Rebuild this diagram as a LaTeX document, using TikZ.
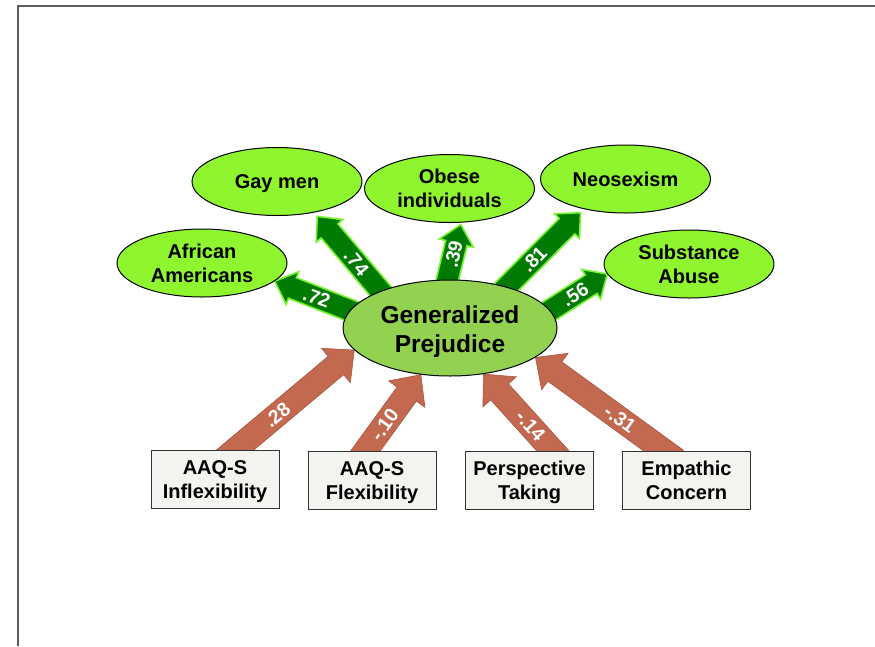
\documentclass[tikz,border=0pt]{standalone}
\usepackage{fontspec}
\setmainfont{Liberation Sans}
\usetikzlibrary{calc,shapes.geometric}

\definecolor{limefill}{HTML}{8EF52F}
\definecolor{corefill}{HTML}{93D151}
\definecolor{posfill}{HTML}{007A00}
\definecolor{posedge}{HTML}{74F52A}
\definecolor{negfill}{HTML}{C3694F}
\definecolor{negedge}{HTML}{A9573F}
\definecolor{boxfill}{HTML}{F3F3EF}
\definecolor{boxline}{HTML}{333333}
\definecolor{framegray}{HTML}{5E5E5E}

\pgfdeclarelayer{arrowlayer}
\pgfsetlayers{arrowlayer,main}

% block arrow: #1 start, #2 tip, #3 half shaft width, #4 half head width,
% #5 head length, #6 style
\newcommand{\blockarrow}[6]{%
  \coordinate (ba-h) at ($(#2)!#5!(#1)$);
  \path[#6] ($(#1)!#3!90:(#2)$) -- ($(ba-h)!#3!90:(#2)$) -- ($(ba-h)!#4!90:(#2)$)
    -- (#2) -- ($(ba-h)!#4!-90:(#2)$) -- ($(ba-h)!#3!-90:(#2)$)
    -- ($(#1)!#3!-90:(#2)$) -- cycle;
}

\tikzset{
  oneline/.style={text height=14.5pt, text depth=0pt},
  twoline/.style={text height=38.3pt, text depth=0pt},
  outer/.style={ellipse, draw=black, line width=1pt, fill=limefill,
    minimum width=170pt, minimum height=68pt, inner sep=0pt, align=center,
    font=\bfseries\fontsize{20}{24}\selectfont},
  core/.style={ellipse, draw=black, line width=1pt, fill=corefill,
    minimum width=214pt, minimum height=96pt, inner sep=0pt, align=center,
    text height=49.8pt, text depth=0pt,
    font=\bfseries\fontsize{24.5}{29}\selectfont},
  srcbox/.style={rectangle, draw=boxline, fill=boxfill, line width=1pt,
    minimum width=128pt, minimum height=58pt, inner sep=0pt, align=center,
    twoline, font=\bfseries\fontsize{20}{24}\selectfont},
  posarrow/.style={fill=posfill, draw=posedge, line width=1.6pt, line join=miter},
  negarrow/.style={fill=negfill, draw=negedge, line width=0.6pt, line join=miter},
  coef/.style={text=white, inner sep=0pt, font=\bfseries\fontsize{19.5}{19.5}\selectfont},
  frameline/.style={draw=framegray, line width=1.5pt}
}

\begin{document}
\begin{tikzpicture}[x=1pt, y=-1pt]
\useasboundingbox (0,0) rectangle (875,646);
\draw[frameline] (18,646) -- (18,6) -- (875,6);

% central latent factor
\node[core] (gp) at (450,328) {Generalized\\Prejudice};

% prejudice targets
\node[outer, twoline] (aa) at (202,263) {African\\Americans};
\node[outer, oneline] (gm) at (277,181.5) {Gay men};
\node[outer, twoline] (ob) at (449.5,188.5) {Obese\\individuals};
\node[outer, oneline] (ne) at (625.5,179) {Neosexism};
\node[outer, twoline] (sa) at (689,264) {Substance\\Abuse};

% predictors
\node[srcbox] (b1) at (215,479) {AAQ-S\\Inflexibility};
\node[srcbox] (b2) at (372,480) {AAQ-S\\Flexibility};
\node[srcbox] (b3) at (529.5,480) {Perspective\\Taking};
\node[srcbox] (b4) at (686.5,480) {Empathic\\Concern};

% arrow end points
\coordinate (g1a) at (gp.170);  \coordinate (g1b) at (aa.-14);
\coordinate (g2a) at (gp.152);  \coordinate (g2b) at ($(gm.-40)!5pt!(gp.152)$);
\coordinate (g3a) at (gp.93);   \coordinate (g3b) at ($(ob.-71)!2pt!(gp.93)$);
\coordinate (g4a) at (gp.36);   \coordinate (g4b) at ($(ne.216)!5pt!(gp.36)$);
\coordinate (g5a) at (gp.10);   \coordinate (g5b) at (sa.187);
\coordinate (r1a) at (b1.55);   \coordinate (r1b) at (gp.193);
\coordinate (r2a) at (b2.102);  \coordinate (r2b) at (gp.238);
\coordinate (r3a) at (b3.52);   \coordinate (r3b) at (gp.306);
\coordinate (r4a) at (b4.128);  \coordinate (r4b) at (gp.341);

\begin{pgfonlayer}{arrowlayer}
  % loadings
  \blockarrow{$(g1a)!-14pt!(g1b)$}{g1b}{11pt}{17.5pt}{19pt}{posarrow}
  \blockarrow{$(g2a)!-14pt!(g2b)$}{g2b}{11pt}{17.5pt}{19pt}{posarrow}
  \blockarrow{$(g3a)!-14pt!(g3b)$}{g3b}{11pt}{17.5pt}{19pt}{posarrow}
  \blockarrow{$(g4a)!-14pt!(g4b)$}{g4b}{11pt}{17.5pt}{19pt}{posarrow}
  \blockarrow{$(g5a)!-14pt!(g5b)$}{g5b}{11pt}{17.5pt}{19pt}{posarrow}
  \node[coef, rotate=-20.6] (l1) at ($(g1a)!0.44!(g1b)$) {.72};
  \node[coef, rotate=-50.8] (l2) at ($(g2a)!0.38!(g2b)$) {.74};
  \node[coef, rotate=76.8]  (l3) at ($(g3a)!0.46!(g3b)$) {.39};
  \node[coef, rotate=45.7]  (l4) at ($(g4a)!0.37!(g4b)$) {.81};
  \node[coef, rotate=31.7]  (l5) at ($(g5a)!0.44!(g5b)$) {.56};
  % predictor paths
  \blockarrow{$(r1a)!-16pt!(r1b)$}{r1b}{12pt}{22.5pt}{24pt}{negarrow}
  \blockarrow{$(r2a)!-16pt!(r2b)$}{r2b}{12pt}{22.5pt}{24pt}{negarrow}
  \blockarrow{$(r3a)!-16pt!(r3b)$}{r3b}{12pt}{22.5pt}{24pt}{negarrow}
  \blockarrow{$(r4a)!-16pt!(r4b)$}{r4b}{12pt}{22.5pt}{24pt}{negarrow}
  \node[coef, rotate=39.6]  (l6) at ($(r1a)!0.35!(r1b)$) {.28};
  \node[coef, rotate=54.5]  (l7) at ($(r2a)!0.34!(r2b)$) {-.10};
  \node[coef, rotate=-48.4] (l8) at ($(r3a)!0.32!(r3b)$) {-.14};
  \node[coef, rotate=-36.2] (l9) at ($(r4a)!0.34!(r4b)$) {-.31};
\end{pgfonlayer}
\end{tikzpicture}
\end{document}
